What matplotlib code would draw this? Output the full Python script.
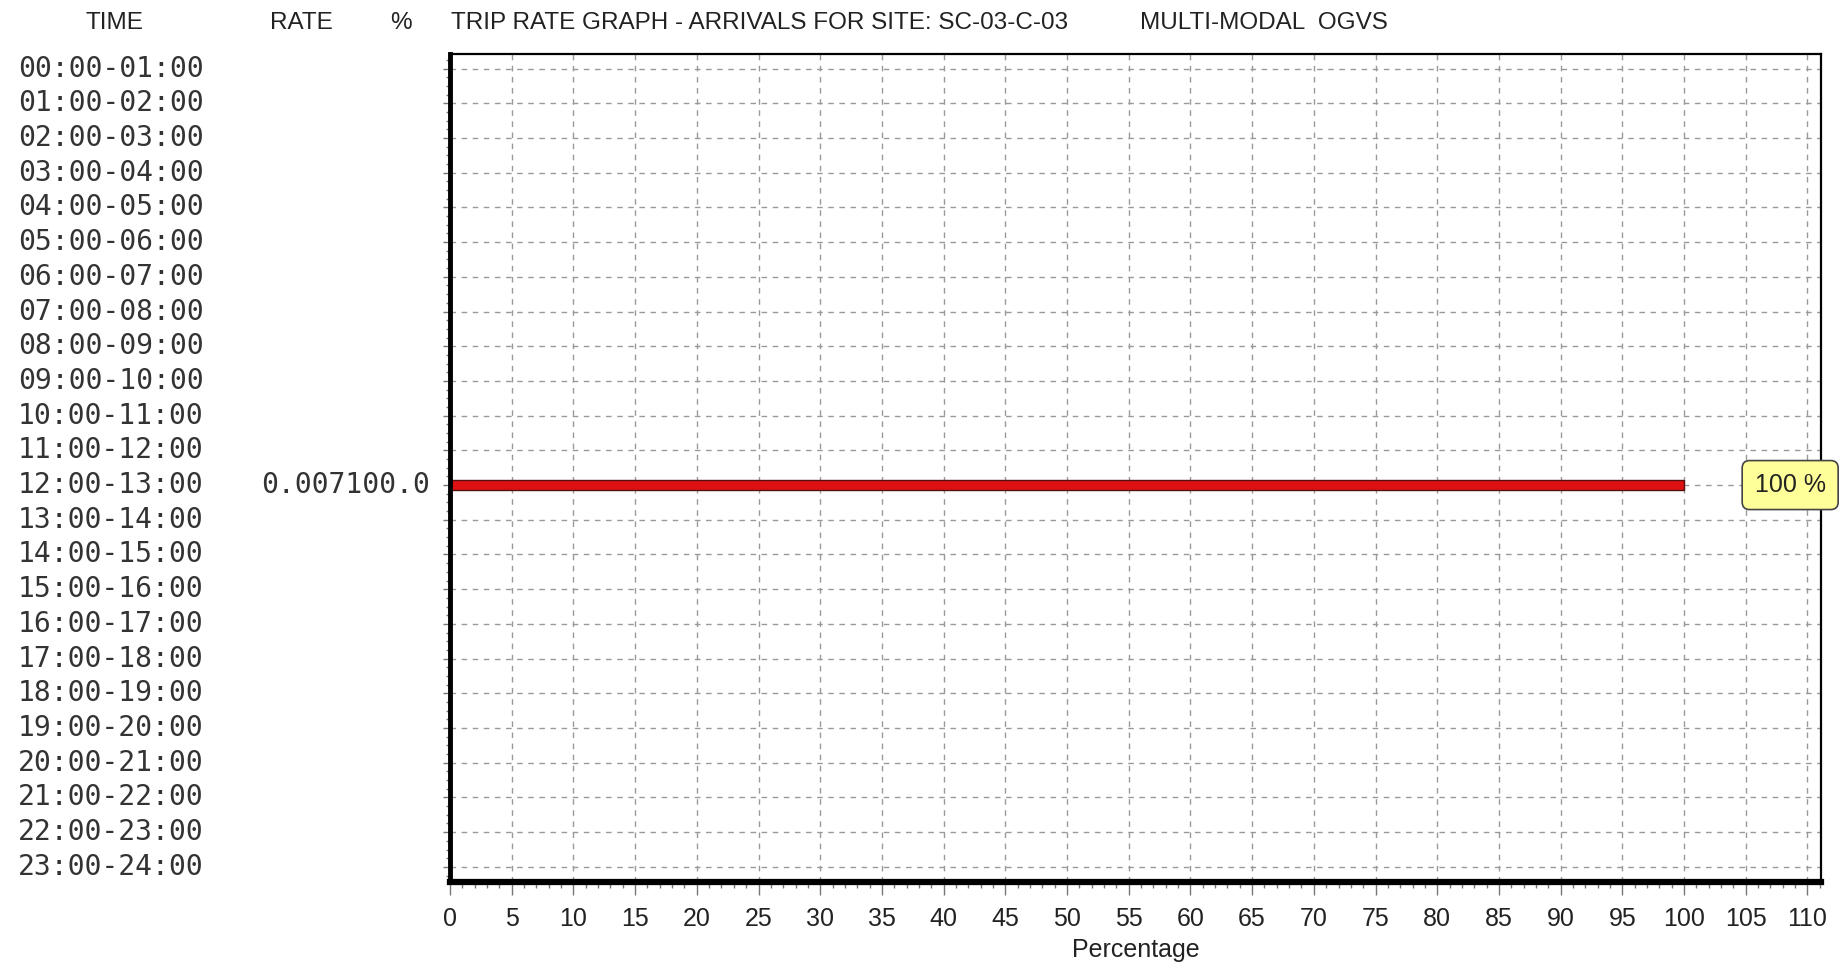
import numpy as np
import matplotlib
matplotlib.use('Agg')
import matplotlib.pyplot as plt
import matplotlib.transforms as mtransforms
from matplotlib.ticker import MultipleLocator

# data
time_slots = ['%02d:00-%02d:00' % (h, h + 1) for h in range(24)]
rates = [0, 0, 0, 0, 0, 0, 0, 0, 0, 0, 0, 0, 0.0071, 0, 0, 0, 0, 0, 0, 0, 0, 0, 0, 0]
percents = [0, 0, 0, 0, 0, 0, 0, 0, 0, 0, 0, 0, 100.0, 0, 0, 0, 0, 0, 0, 0, 0, 0, 0, 0]
x_ticks = list(range(0, 115, 5))
site = 'SC-03-C-03'
mode_txt = 'MULTI-MODAL  OGVS'

narrow = ['Liberation Sans Narrow', 'Liberation Sans', 'DejaVu Sans']
mono = ['DejaVu Sans Mono']
txtcol = '#222222'

fig = plt.figure(figsize=(18.48, 9.69), dpi=100)
ax = fig.add_axes([0.2435, 0.0900, 0.9854 - 0.2435, 0.9443 - 0.0900])

y = np.arange(len(time_slots))
ax.barh(y, percents, height=0.29, color='#dd1111', edgecolor='#551111', linewidth=1.0, zorder=3)

ax.set_xlim(0, 111.1)
ax.set_ylim(23.43, -0.42)

ax.xaxis.set_major_locator(MultipleLocator(5))
ax.xaxis.set_minor_locator(MultipleLocator(1))
ax.set_yticks(y)
ax.yaxis.set_minor_locator(MultipleLocator(0.25))
ax.set_yticklabels([])
ax.set_xticks(x_ticks)
ax.set_xticklabels([str(v) for v in x_ticks], family=narrow, fontsize=18, color=txtcol)
ax.tick_params(axis='x', which='major', length=9, width=1, color='#777777', pad=9)
ax.tick_params(axis='x', which='minor', length=4, width=1, color='#777777')
ax.tick_params(axis='y', which='major', length=5, width=1, color='#777777')
ax.tick_params(axis='y', which='minor', length=3, width=1, color='#777777')

ax.grid(True, which='major', linestyle=(0, (4, 4)), color='#999999', linewidth=1.0, zorder=0)

for side in ['top', 'right']:
    ax.spines[side].set_linewidth(1.6)
ax.spines['left'].set_linewidth(3.5)
ax.spines['bottom'].set_linewidth(4.5)
for s in ax.spines.values():
    s.set_color('black')
    s.set_zorder(4)

ax.set_xlabel('Percentage', family=narrow, fontsize=18, color=txtcol, labelpad=5)

trans = mtransforms.blended_transform_factory(fig.transFigure, ax.transData)
for i, t in enumerate(time_slots):
    ax.text(0.0097, i, t, transform=trans, family=mono, fontsize=20.2, color='#333333',
            ha='left', va='center', clip_on=False)
    if percents[i] > 0:
        ax.text(0.2327, i, '%.3f%.1f' % (rates[i], percents[i]), transform=trans, family=mono,
                fontsize=20.2, color='#333333', ha='right', va='center', clip_on=False)
        ax.text(percents[i] + 8.6, i, '%d %%' % percents[i], family=narrow, fontsize=18,
                color=txtcol, ha='center', va='center', clip_on=False, zorder=6,
                bbox=dict(boxstyle='round,pad=0.5,rounding_size=0.3', fc='#ffff99',
                          ec='#444444', lw=1.2))

hy = 0.976
fig.text(114 / 1848, hy, 'TIME', family=narrow, fontsize=17.5, color=txtcol, ha='center', va='center')
fig.text(301 / 1848, hy, 'RATE', family=narrow, fontsize=17.5, color=txtcol, ha='center', va='center')
fig.text(401 / 1848, hy, '%', family=narrow, fontsize=17.5, color=txtcol, ha='center', va='center')
fig.text(451 / 1848, hy, 'TRIP RATE GRAPH - ARRIVALS FOR SITE: ' + site, family=narrow,
         fontsize=17.5, color=txtcol, ha='left', va='center')
fig.text(1140 / 1848, hy, mode_txt, family=narrow, fontsize=17.5, color=txtcol, ha='left', va='center')

fig.savefig('out.png', dpi=100)
